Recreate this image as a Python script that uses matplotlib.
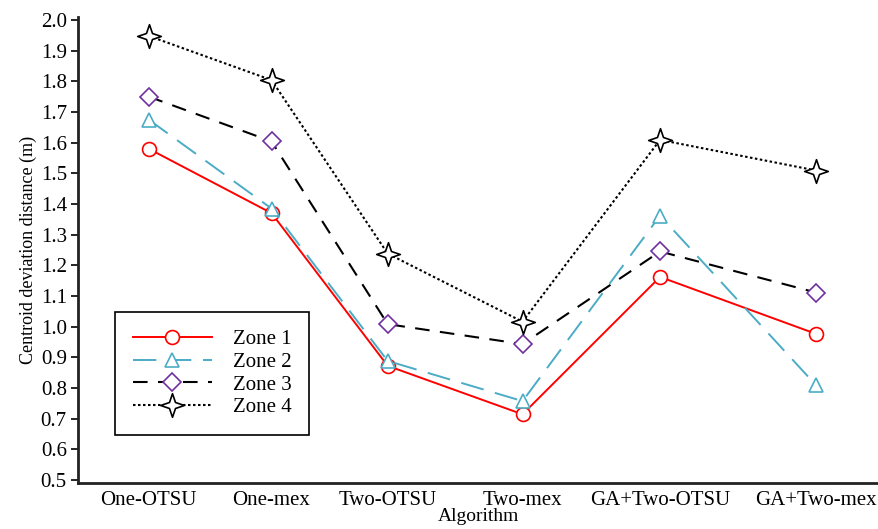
import matplotlib
matplotlib.use("Agg")
import matplotlib.pyplot as plt
from matplotlib.path import Path
import numpy as np

# data
algoritmi = ["One-OTSU", "One-mex", "Two-OTSU", "Two-mex", "GA+Two-OTSU", "GA+Two-mex"]
x_poz = [0.0, 0.92, 1.79, 2.80, 3.83, 5.0]  # category spacing in the original is uneven
zona1 = [1.58, 1.37, 0.872, 0.714, 1.162, 0.976]
zona2 = [1.675, 1.385, 0.888, 0.757, 1.362, 0.808]
zona3 = [1.750, 1.604, 1.008, 0.943, 1.245, 1.111]
zona4 = [1.948, 1.804, 1.238, 1.016, 1.609, 1.509]
y_tikovi = [0.5, 0.6, 0.7, 0.8, 0.9, 1.0, 1.1, 1.2, 1.3, 1.4, 1.5, 1.6, 1.7, 1.8, 1.9, 2.0]

plt.rcParams['font.family'] = ['Liberation Serif', 'DejaVu Serif']

# four pointed star marker
ugl = np.arange(8) * np.pi / 4 + np.pi / 2
rad = np.where(np.arange(8) % 2 == 0, 1.0, 0.36)
tacke = np.column_stack([rad * np.cos(ugl), rad * np.sin(ugl)])
tacke = np.vstack([tacke, tacke[:1]])
zvezda = Path(tacke, closed=True)

fig = plt.figure(figsize=(8.79, 5.29), dpi=100)
ax = fig.add_axes([0.0887, 0.087, 0.9113, 0.881])

ax.plot(x_poz, zona1, color='#ff0000', lw=1.4, marker='o', ms=10,
        mfc='white', mec='#ff0000', mew=1.2, label='Zone 1')
ax.plot(x_poz, zona2, color='#4bacc6', lw=1.4, dashes=(12, 6), marker='^', ms=10,
        mfc='white', mec='#4bacc6', mew=1.2, label='Zone 2')
ax.plot(x_poz, zona3, color='black', lw=1.5, dashes=(7, 5), marker='D', ms=9,
        mfc='white', mec='#7030a0', mew=1.2, label='Zone 3')
ax.plot(x_poz, zona4, color='black', lw=1.5, dashes=(1.2, 1.2), marker=zvezda, ms=17,
        mfc='white', mec='black', mew=1.2, label='Zone 4')

ax.set_xlim(-0.53, 5.47)
ax.set_ylim(0.49, 2.01)
ax.set_yticks(y_tikovi)
ax.set_yticklabels(["{:.1f}".format(v) for v in y_tikovi], fontsize=15)
ax.set_xticks(x_poz)
ax.set_xticklabels(algoritmi, fontsize=15)
ax.tick_params(axis='x', length=0, pad=6)
ax.tick_params(axis='y', length=5, width=1.2, pad=3)

for s in ['top', 'right']:
    ax.spines[s].set_visible(False)
for s in ['left', 'bottom']:
    ax.spines[s].set_linewidth(2)
    ax.spines[s].set_color('#222222')

ax.set_xlabel('Algorithm', fontsize=14, labelpad=-2)
ax.set_ylabel('Centroid deviation distance (m)', fontsize=13, labelpad=3)

leg = ax.legend(loc='lower left', bbox_to_anchor=(0.046, 0.103), borderaxespad=0,
                fontsize=15, handlelength=3.8, fancybox=False, framealpha=1,
                edgecolor='black', borderpad=0.85, labelspacing=0.15, handletextpad=1.0)
leg.get_frame().set_linewidth(1.2)

fig.savefig('out.png', dpi=100)
